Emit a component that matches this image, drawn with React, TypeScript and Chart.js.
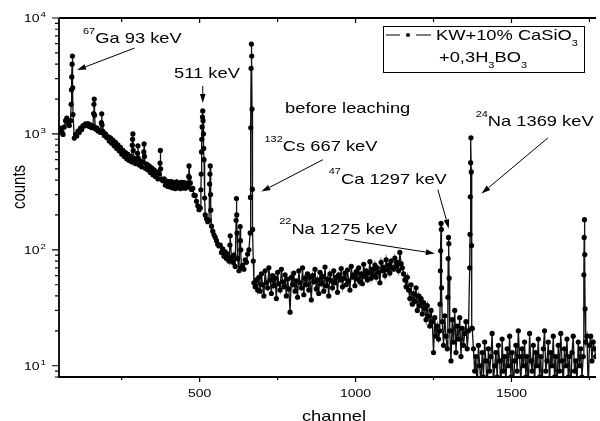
import React, { useEffect, useRef } from "react";
import { Chart, registerables } from "chart.js";

Chart.register(...registerables);

// ---------- data ----------
const firstChannel = 50;
const channelStep = 4;

// counts on the regular channel grid 50, 54, 58, ... 1770
const baseCounts = [
  1080, 1120, 1030, 990, 1150, 1300, 1370, 1250, 1180, 1300, // 50
  3100, 1470, 920, 990, 960, 1060, 1030, 1120, 1090, 1180, // 90
  1170, 1220, 1190, 1230, 1160, 1200, 1130, 1170, 2000, 1100, // 130
  1130, 1060, 1080, 1030, 1490, 1050, 970, 1000, 930, 950, // 170
  870, 925, 830, 885, 790, 845, 750, 805, 715, 765, // 210
  670, 720, 640, 690, 610, 665, 590, 640, 575, 1000, // 250
  615, 555, 600, 790, 540, 585, 520, 570, 820, 505, // 290
  550, 490, 530, 465, 510, 445, 490, 430, 470, 410, // 330
  450, 720, 405, 395, 410, 362, 392, 352, 388, 348, // 370
  388, 342, 380, 338, 386, 344, 378, 338, 382, 342, // 410
  380, 340, 376, 348, 530, 378, 332, 340, 296, 294, // 450
  262, 240, 222, 230, 700, 1580, 600, 200, 185, 175, // 490
  180, 530, 160, 145, 135, 128, 120, 112, 108, 110, // 530
  95, 102, 88, 96, 84, 92, 80, 132, 86, 78, // 570
  90, 72, 277, 84, 66, 159, 70, 74, 68, 82, // 610
  78, 92, 100, 140, 5960, 150, 52, 48, 55, 45, // 650
  58, 44, 62, 50, 40, 66, 52, 47, 70, 55, // 690
  42, 60, 49, 57, 38, 64, 51, 45, 68, 53, // 730
  48, 61, 40, 56, 46, 29, 58, 50, 63, 44, // 770
  54, 39, 66, 52, 47, 70, 41, 57, 50, 62, // 810
  45, 58, 37, 60, 53, 68, 46, 55, 42, 64, // 850
  51, 59, 44, 71, 49, 56, 40, 62, 54, 47, // 890
  66, 52, 58, 43, 61, 55, 69, 48, 57, 63, // 930
  50, 67, 54, 45, 72, 58, 61, 49, 65, 56, // 970
  70, 53, 62, 51, 75, 59, 66, 55, 63, 79, // 1010
  57, 68, 61, 74, 58, 70, 64, 52, 78, 66, // 1050
  71, 60, 82, 67, 74, 63, 80, 70, 68, 85, // 1090
  72, 78, 66, 95, 76, 70, 62, 55, 48, 58, // 1130
  45, 38, 50, 34, 42, 36, 47, 30, 40, 33, // 1170
  38, 28, 35, 31, 25, 33, 27, 22, 30, 24, // 1210
  13, 26, 18, 22, 17, 20, 169, 24, 15, 27, // 1250
  18, 14, 128, 20, 11, 25, 16, 30, 13, 22, // 1290
  17, 26, 12, 21, 15, 19, 24, 14, 20, 70, // 1330
  925, 21, 14, 9, 12, 6, 15, 10, 7, 13, // 1370
  8, 16, 11, 6, 14, 9, 12, 19, 7, 10, // 1410
  13, 8, 15, 11, 6, 17, 9, 12, 7, 14, // 1450
  10, 18, 8, 13, 6, 11, 15, 9, 20, 12, // 1490
  7, 14, 10, 16, 8, 12, 6, 19, 11, 9, // 1530
  15, 7, 13, 10, 17, 8, 12, 6, 14, 20, // 1570
  9, 11, 16, 7, 13, 10, 18, 8, 12, 6, // 1610
  15, 9, 19, 11, 7, 14, 10, 17, 8, 12, // 1650
  6, 13, 18, 9, 11, 7, 16, 10, 14, 8, // 1690
  12, 182, 16, 18, 6, 15, 18, 11, 16, 14, // 1730
  12, // 1770
];

// extra single-channel points on the flanks of the peaks
const peakChannels = [
  88, 89, 91, 92, 93, 160, 161, 163, 185, 187, 284, 285, 287, 301, 303, 321, 323, 373, 375, 465, 467,
  504, 505, 507, 508, 509, 511, 512, 513, 516, 532, 533, 535, 536, 597, 617, 619, 620, 631, 632,
  663, 664, 665, 667, 668, 669, 672, 1271, 1272, 1273, 1275, 1276, 1296, 1297, 1299, 1300,
  1367, 1368, 1369, 1371, 1372, 1373, 1732, 1733, 1735, 1736,
];
const peakCounts = [
  1800, 2400, 4000, 4700, 2500, 1500, 1800, 1450, 1250, 1200, 800, 900, 720, 680, 620, 700, 640, 560, 500, 430, 420,
  330, 450, 900, 1150, 1400, 1300, 1000, 750, 280, 370, 450, 300, 220, 110, 180, 200, 140, 120, 100,
  283, 1130, 3680, 4700, 1640, 334, 80, 34, 66, 98, 150, 47, 39, 84, 113, 57,
  136, 287, 565, 470, 109, 21, 61, 128, 91, 31,
];

const xMajorTicks = [500, 1000, 1500];
const xMinorTicks = [250, 750, 1250, 1750];
const yDecades = [10, 100, 1000, 10000];
const yMinorMultipliers = [2, 3, 4, 5, 6, 7, 8, 9];
const xMin = 49;
const xMax = 1771;
const yMin = 8;
const yMax = 10000;

const seriesLabel = "KW+10% CaSiO3 +0,3H3BO3";

// annotations: [text segments], anchor (channel,count), arrow from/to (channel,count)
type Seg = [string, number];
const annotations: { segs: Seg[]; at: [number, number]; from?: [number, number]; to?: [number, number] }[] = [
  { segs: [["67", 1], ["Ga 93 keV", 0]], at: [126, 6070], from: [291, 5500], to: [107, 3560] },
  { segs: [["511 keV", 0]], at: [418, 3035], from: [510, 2594], to: [510, 1849] },
  { segs: [["before leaching", 0]], at: [774, 1517] },
  { segs: [["132", 1], ["Cs 667 keV", 0]], at: [708, 710], from: [895, 599], to: [698, 318] },
  { segs: [["47", 1], ["Ca 1297 keV", 0]], at: [914, 372], from: [1264, 330], to: [1299, 153] },
  { segs: [["22", 1], ["Na 1275 keV", 0]], at: [755, 138], from: [965, 123], to: [1254, 93] },
  { segs: [["24", 1], ["Na 1369 keV", 0]], at: [1385, 1175], from: [1617, 925], to: [1404, 306] },
];

// ---------- drawing helpers ----------
const FONT = '"Liberation Sans", Arial, Helvetica, sans-serif';
const SX = 1.22;

function txt(ctx: CanvasRenderingContext2D, s: string, x: number, y: number, size: number, align = "left") {
  ctx.font = `${size}px ${FONT}`;
  const w = ctx.measureText(s).width * SX;
  let x0 = x;
  if (align === "center") x0 = x - w / 2;
  else if (align === "right") x0 = x - w;
  ctx.save();
  ctx.translate(x0, y);
  ctx.scale(SX, 1);
  ctx.textAlign = "left";
  ctx.textBaseline = "alphabetic";
  ctx.fillText(s, 0, 0);
  ctx.restore();
  return w;
}

function rich(ctx: CanvasRenderingContext2D, segs: Seg[], x: number, y: number, size: number) {
  let cx = x;
  for (const [s, m] of segs) {
    const fs = m === 0 ? size : size * 0.6;
    const dy = m === 1 ? -size * 0.62 : m === -1 ? size * 0.42 : 0;
    cx += txt(ctx, s, cx, y + dy, fs);
  }
  return cx - x;
}

function arrow(ctx: CanvasRenderingContext2D, x1: number, y1: number, x2: number, y2: number) {
  const ang = Math.atan2(y2 - y1, x2 - x1);
  const L = 9;
  const W = 2.8;
  const bx = x2 - L * Math.cos(ang);
  const by = y2 - L * Math.sin(ang);
  ctx.beginPath();
  ctx.moveTo(x1, y1);
  ctx.lineTo(bx, by);
  ctx.stroke();
  ctx.beginPath();
  ctx.moveTo(x2, y2);
  ctx.lineTo(bx - W * Math.sin(ang), by + W * Math.cos(ang));
  ctx.lineTo(bx + W * Math.sin(ang), by - W * Math.cos(ang));
  ctx.closePath();
  ctx.fill();
}

const framePlugin = {
  id: "originFrame",
  afterDraw(chart: any) {
    const { ctx, chartArea: a } = chart;
    const xs = chart.scales.x;
    const ys = chart.scales.y;
    ctx.save();
    ctx.strokeStyle = "#000";
    ctx.fillStyle = "#000";

    // axis lines
    ctx.lineWidth = 1.8;
    ctx.beginPath();
    ctx.moveTo(a.left, a.top);
    ctx.lineTo(a.left, a.bottom + 1);
    ctx.moveTo(a.left - 1, a.bottom);
    ctx.lineTo(a.right, a.bottom);
    ctx.moveTo(a.left, a.top);
    ctx.lineTo(a.right, a.top);
    ctx.stroke();

    // x ticks (bottom outward, top inward)
    ctx.lineWidth = 1.2;
    ctx.beginPath();
    for (const v of xMajorTicks) {
      const x = xs.getPixelForValue(v);
      ctx.moveTo(x, a.bottom);
      ctx.lineTo(x, a.bottom + 5);
      ctx.moveTo(x, a.top);
      ctx.lineTo(x, a.top + 5);
    }
    for (const v of xMinorTicks) {
      const x = xs.getPixelForValue(v);
      ctx.moveTo(x, a.bottom);
      ctx.lineTo(x, a.bottom + 3);
      ctx.moveTo(x, a.top);
      ctx.lineTo(x, a.top + 4);
    }
    // y ticks (left outward)
    for (const v of yDecades) {
      const y = ys.getPixelForValue(v);
      ctx.moveTo(a.left, y);
      ctx.lineTo(a.left - 7, y);
    }
    for (const d of [1, 10, 100, 1000]) {
      for (const m of yMinorMultipliers) {
        const v = d * m;
        if (v < yMin || v > yMax) continue;
        const y = ys.getPixelForValue(v);
        ctx.moveTo(a.left, y);
        ctx.lineTo(a.left - 4, y);
      }
    }
    ctx.stroke();

    // tick labels
    for (const v of xMajorTicks) {
      txt(ctx, String(v), xs.getPixelForValue(v), a.bottom + 20, 11.5, "center");
    }
    for (const v of yDecades) {
      const y = ys.getPixelForValue(v);
      txt(ctx, "10", 39.6, y + 4.2, 11.5, "right");
      txt(ctx, String(Math.round(Math.log10(v))), 40.6, y - 0.6, 8);
    }

    // axis titles
    txt(ctx, "channel", 334, 420.5, 15, "center");
    ctx.save();
    ctx.translate(25, 187);
    ctx.rotate(-Math.PI / 2);
    ctx.font = `15px ${FONT}`;
    ctx.scale(1, SX);
    ctx.textAlign = "center";
    ctx.textBaseline = "alphabetic";
    ctx.fillText("counts", 0, 0);
    ctx.restore();

    // annotations
    ctx.lineWidth = 1;
    for (const an of annotations) {
      rich(ctx, an.segs, xs.getPixelForValue(an.at[0]), ys.getPixelForValue(an.at[1]), 15);
      if (an.from && an.to) {
        arrow(
          ctx,
          xs.getPixelForValue(an.from[0]),
          ys.getPixelForValue(an.from[1]),
          xs.getPixelForValue(an.to[0]),
          ys.getPixelForValue(an.to[1])
        );
      }
    }

    // legend box
    const bx = a.right - 213;
    const by = a.top + 8;
    ctx.lineWidth = 1;
    ctx.strokeRect(bx + 0.5, by + 0.5, 201, 46);
    ctx.beginPath();
    ctx.moveTo(bx + 3, by + 9);
    ctx.lineTo(bx + 17, by + 9);
    ctx.moveTo(bx + 33, by + 9);
    ctx.lineTo(bx + 48, by + 9);
    ctx.stroke();
    ctx.beginPath();
    ctx.arc(bx + 25, by + 9, 2, 0, Math.PI * 2);
    ctx.fill();
    rich(ctx, [["KW+10% CaSiO", 0], ["3", -1]], bx + 53, by + 14, 15);
    rich(ctx, [["+0,3H", 0], ["3", -1], ["BO", 0], ["3", -1]], bx + 56, by + 36, 15);

    ctx.restore();
  },
};

function buildPoints() {
  const pts = baseCounts.map((c, i) => ({ x: firstChannel + i * channelStep, y: c }));
  peakChannels.forEach((ch, i) => pts.push({ x: ch, y: peakCounts[i] }));
  pts.sort((p, q) => p.x - q.x);
  return pts;
}

export default function App() {
  const ref = useRef<HTMLCanvasElement>(null);
  useEffect(() => {
    const canvas = ref.current;
    if (!canvas) return;
    const chart = new Chart(canvas, {
      type: "line",
      data: {
        datasets: [
          {
            label: seriesLabel,
            data: buildPoints(),
            borderColor: "#111",
            borderWidth: 1.3,
            pointRadius: 2.6,
            pointBackgroundColor: "#000",
            pointBorderColor: "#000",
            pointBorderWidth: 0,
            tension: 0,
          },
        ],
      },
      options: {
        animation: false,
        responsive: false,
        devicePixelRatio: 1,
        events: [],
        layout: { padding: { left: 59, right: 0, top: 18, bottom: 44 } },
        scales: {
          x: { type: "linear", display: false, min: xMin, max: xMax },
          y: { type: "logarithmic", display: false, min: yMin, max: yMax },
        },
        plugins: { legend: { display: false }, tooltip: { enabled: false } },
      },
      plugins: [framePlugin],
    } as any);
    return () => chart.destroy();
  }, []);
  return (
    <div style={{ position: "fixed", left: 0, top: 0, width: 600, height: 421, background: "#fff" }}>
      <canvas ref={ref} width={600} height={421} style={{ display: "block" }} />
    </div>
  );
}
